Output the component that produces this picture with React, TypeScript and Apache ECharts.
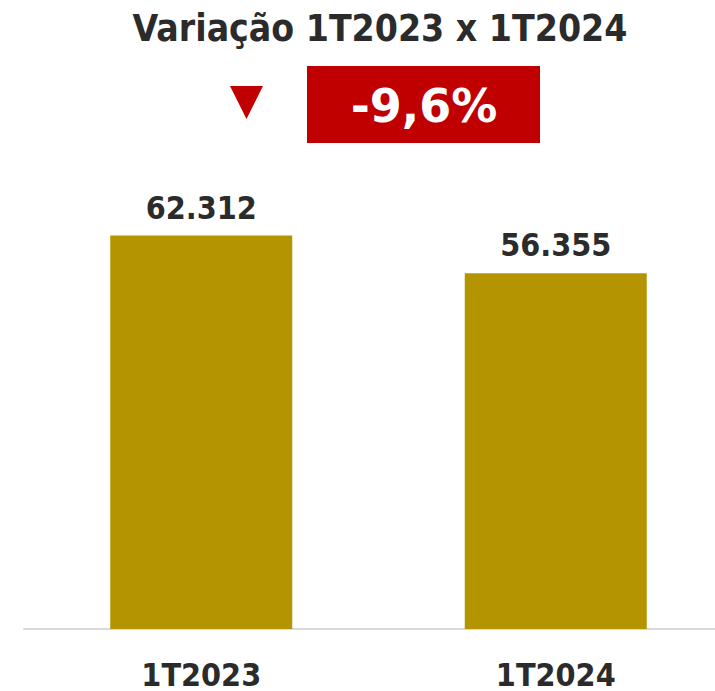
import React, { useEffect, useRef } from "react";
import * as echarts from "echarts";

const categories = ["1T2023", "1T2024"];
const values = [62312, 56355];
const titleText = "Variação 1T2023 x 1T2024";
const variationText = "-9,6%";

const FONT = "'DejaVu Sans Condensed', 'DejaVu Sans', sans-serif";
const WIDE_FONT = "'DejaVu Sans', sans-serif";
const DARK = "#2b2b2b";
const RED = "#c00000";
const GOLD = "#b49400";

function fmt(v: number): string {
  return v.toString().replace(/\B(?=(\d{3})+(?!\d))/g, ".");
}

export default function App() {
  const ref = useRef<HTMLDivElement>(null);
  useEffect(() => {
    if (!ref.current) return;
    const chart = echarts.init(ref.current, undefined, { renderer: "svg" });
    chart.setOption({
      animation: false,
      backgroundColor: "#ffffff",
      grid: { left: 24, width: 709, top: 187, height: 448 },
      xAxis: {
        type: "category",
        data: categories,
        axisLine: { show: true, lineStyle: { color: "#d9d9d9", width: 2 } },
        axisTick: { show: false },
        axisLabel: {
          color: DARK,
          fontFamily: FONT,
          fontWeight: "bold",
          fontSize: 32,
          margin: 30,
        },
      },
      yAxis: {
        type: "value",
        min: 0,
        max: 70000,
        show: false,
        splitLine: { show: false },
      },
      series: [
        {
          type: "bar",
          data: values,
          barWidth: 182,
          itemStyle: { color: GOLD },
          label: {
            show: true,
            position: "top",
            distance: 12,
            color: DARK,
            fontFamily: FONT,
            fontWeight: "bold",
            fontSize: 32,
            formatter: (p: any) => fmt(p.value),
          },
        },
      ],
      graphic: [
        {
          type: "text",
          x: 380,
          y: 28,
          style: {
            text: titleText,
            fill: DARK,
            font: `bold 37px ${FONT}`,
            align: "center",
            verticalAlign: "middle",
          },
        },
        {
          type: "polygon",
          shape: { points: [[230, 86], [263, 86], [246.5, 119]] },
          style: { fill: RED },
        },
        {
          type: "rect",
          shape: { x: 307, y: 66, width: 233, height: 77 },
          style: { fill: RED },
        },
        {
          type: "text",
          x: 424,
          y: 106,
          style: {
            text: variationText,
            fill: "#ffffff",
            font: `bold 46px ${WIDE_FONT}`,
            align: "center",
            verticalAlign: "middle",
          },
        },
      ],
    });
    return () => chart.dispose();
  }, []);
  return (
    <div style={{ position: "absolute", left: 0, top: 0, width: 715, height: 691, overflow: "hidden", background: "#fff" }}>
      <div ref={ref} style={{ width: 760, height: 691 }} />
    </div>
  );
}
